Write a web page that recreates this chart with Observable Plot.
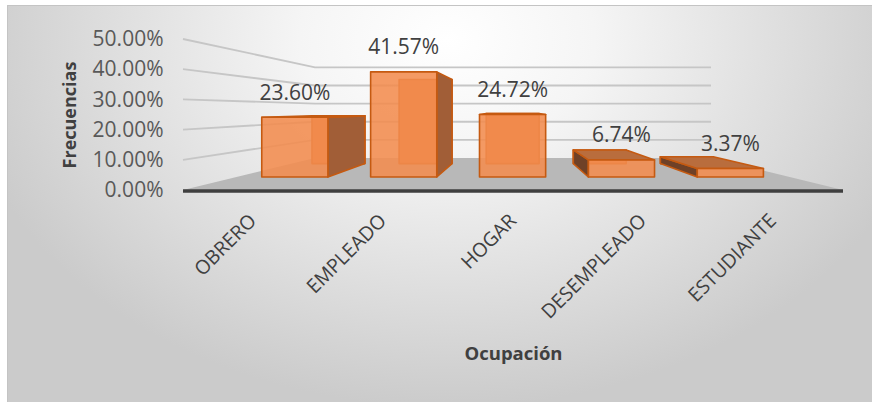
<!DOCTYPE html>
<html><head><meta charset="utf-8">
<script src="https://cdn.jsdelivr.net/npm/d3@7"></script>
<script src="https://cdn.jsdelivr.net/npm/@observablehq/plot@0.6"></script>
<style>
html,body{margin:0;padding:0;background:#fff;}
#chart{position:relative;width:872px;height:402px;overflow:hidden;font-family:"Open Sans",sans-serif;}
#box{position:absolute;left:7px;top:5px;width:880px;height:420px;border:1px solid #c4c4c4;box-sizing:border-box;
 background:radial-gradient(ellipse 56% 88% at 50% 8%, #ffffff 0%, #f5f5f5 30%, #dddddd 70%, #cbcbcb 100%);}
#chart svg{position:absolute;left:0;top:0;}
</style></head><body><div id="chart"><div id="box"></div></div>
<script>
const categories = ["OBRERO", "EMPLEADO", "HOGAR", "DESEMPLEADO", "ESTUDIANTE"];
const frequencies = [0.2360, 0.4157, 0.2472, 0.0674, 0.0337];
const yTicks = [0, 0.1, 0.2, 0.3, 0.4, 0.5];
const yTitle = "Frecuencias";
const xTitle = "Ocupación";

// camera / depth parameters of the faux-3D view
const HORIZON = 0.265;   // eye level, in y units
const FRONT = 0.8375, DEPTH = 0.8, WALL = 0.6;
const fmt = d3.format(".2%");

function scene(index, scales, values, dims) {
  const x = scales.x, y = scales.y;
  const bw = x.bandwidth();
  const L = dims.marginLeft, R = dims.width - dims.marginRight;
  const vx = (L + R) / 2, vy = y(HORIZON);
  const P = (px, py, s) => [vx + (px - vx) * s, vy + (py - vy) * s];
  const pts = a => a.map(d => d.join(",")).join(" ");
  const g = d3.create("svg:g");
  const poly = (a, attrs) => { const p = g.append("polygon").attr("points", pts(a)); for (const k in attrs) p.attr(k, attrs[k]); return p; };
  const y0 = y(0);
  // floor
  poly([[L, y0], [R, y0], P(R, y0, WALL), P(L, y0, WALL)], {fill: "#b8b8b8"});
  // gridlines on side + back wall
  for (const t of yTicks) {
    if (t === 0) continue;
    const yt = y(t);
    g.append("polyline").attr("points", pts([[L, yt], P(L, yt, WALL), P(R, yt, WALL)]))
      .attr("fill", "none").attr("stroke", "#c6c6c6").attr("stroke-width", 1.8);
  }
  g.append("line").attr("x1", L).attr("x2", R).attr("y1", y0 + 1).attr("y2", y0 + 1)
    .attr("stroke", "#3f3f3f").attr("stroke-width", 3.5);
  const sf = FRONT, sb = FRONT * DEPTH;
  const st = {stroke: "#c55a11", "stroke-width": 1.6, "stroke-linejoin": "round"};
  categories.forEach((c, i) => {
    const X0 = x(c), X1 = X0 + bw, Yt = y(frequencies[i]), Yb = y0;
    const f = (a, b) => P(a, b, sf), b = (a, c2) => P(a, c2, sb);
    poly([b(X0, Yt), b(X1, Yt), b(X1, Yb), b(X0, Yb)], {fill: "#e57d3d", ...st});
    if (f(X1, Yt)[0] < vx) poly([f(X1, Yt), b(X1, Yt), b(X1, Yb), f(X1, Yb)], {fill: "#a15e37", ...st});
    if (f(X0, Yt)[0] > vx) poly([f(X0, Yt), b(X0, Yt), b(X0, Yb), f(X0, Yb)], {fill: "#6f4127", ...st});
    if (Yt > vy) poly([f(X0, Yt), f(X1, Yt), b(X1, Yt), b(X0, Yt)], {fill: "#b96d3d", ...st});
    poly([f(X0, Yt), f(X1, Yt), f(X1, Yb), f(X0, Yb)], {fill: "#f28c4e", "fill-opacity": 0.88, ...st});
    const top = f(X0 + bw / 2, Yt);
    g.append("text").attr("x", top[0]).attr("y", top[1] - 25).attr("dy", "0.35em")
      .attr("text-anchor", "middle").attr("font-size", 21).attr("fill", "#404040").text(fmt(frequencies[i]));
  });
  return g.node();
}

const chart = Plot.plot({
  width: 872, height: 402,
  marginLeft: 183, marginRight: 29, marginTop: 39, marginBottom: 212,
  style: {background: "transparent", fontFamily: "Open Sans", overflow: "visible"},
  x: {type: "band", domain: categories, paddingInner: 0.39, paddingOuter: 0.23, axis: null},
  y: {domain: [0, 0.5], axis: null},
  marks: [
    scene,
    Plot.axisY(yTicks, {tickSize: 0, tickPadding: 20, tickFormat: ".2%", fontSize: 21, fill: "#595959", label: null}),
    Plot.text(categories, {x: d => d, frameAnchor: "bottom", dy: 27, rotate: -45, textAnchor: "end", lineAnchor: "middle", fontSize: 19.5, fill: "#404040"}),
    Plot.text([yTitle], {frameAnchor: "left", dx: -113, rotate: -90, textAnchor: "middle", fontSize: 18, fontWeight: "bold", fill: "#404040"}),
    Plot.text([xTitle], {frameAnchor: "bottom", dy: 169, textAnchor: "middle", fontSize: 18.5, fontWeight: "bold", fill: "#404040"})
  ]
});
document.getElementById("chart").appendChild(chart);
</script></body></html>
